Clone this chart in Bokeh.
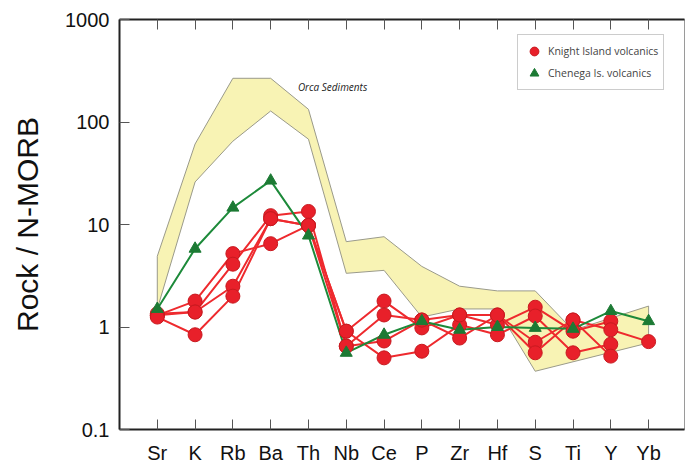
from bokeh.plotting import figure
from bokeh.models import FixedTicker, LinearAxis, Legend, LegendItem, Label, Range1d
from bokeh.embed import file_html
from bokeh.resources import INLINE

nan = float("nan")

elements = ["Sr", "K", "Rb", "Ba", "Th", "Nb", "Ce", "P", "Zr", "Hf", "S", "Ti", "Y", "Yb"]

# Knight Island volcanics (Rock / N-MORB)
knight_1 = [1.30, 1.79, 5.2, 6.5, 9.8, 0.91, 1.79, 0.98, 1.31, 1.05, 1.56, 0.91, 1.14, nan]
knight_2 = [1.35, 1.40, 4.1, 12.2, 13.4, 0.65, 1.31, 1.17, 0.78, 1.31, 0.71, 1.17, 0.94, 0.72]
knight_3 = [1.30, 1.40, 2.5, 11.4, 9.8, 0.91, 0.50, 0.58, 1.05, 0.84, 1.28, 0.56, 0.68, nan]
knight_4 = [1.25, 0.84, 2.0, 11.4, 9.8, 0.65, 0.73, 1.17, 1.31, 1.31, 0.56, 1.17, 0.52, nan]
knight_samples = [knight_1, knight_2, knight_3, knight_4]

# Chenega Is. volcanics
chenega = [1.50, 5.8, 14.6, 26.8, 7.8, 0.56, 0.84, 1.14, 0.94, 1.00, 0.98, 0.96, 1.43, 1.14]

# Orca Sediments envelope (upper / lower bounds; nan = no vertex)
orca_upper = [4.9, 61, 267, 267, 133, 6.8, 7.6, 3.9, 2.5, 2.25, 2.25, 0.93, nan, 1.6]
orca_lower = [1.5, 26, 65, 128, 68, 3.34, 3.57, 1.25, 1.5, 1.5, 0.37, nan, nan, 0.70]

y_ticks = [0.1, 1, 10, 100, 1000]
y_labels = ["0.1", "1", "10", "100", "1000"]

xs = list(range(1, len(elements) + 1))

p = figure(width=690, height=466, x_range=Range1d(0, 14.95), y_range=Range1d(0.1, 1000),
           y_axis_type="log", output_backend="svg", toolbar_location=None,
           min_border_left=119, min_border_right=6, min_border_top=19, min_border_bottom=34)
p.grid.visible = False
p.outline_line_color = "#9a9a9a"
p.outline_line_width = 1
p.background_fill_color = "white"
p.border_fill_color = "white"

# envelope polygon
up_pts = [(x, v) for x, v in zip(xs, orca_upper) if v == v]
lo_pts = [(x, v) for x, v in zip(xs, orca_lower) if v == v]
poly = up_pts + lo_pts[::-1]
p.patch([q[0] for q in poly], [q[1] for q in poly], fill_color="#f8f3b4",
        line_color="#9a9a8a", line_width=1)

red_line = "#ee2a2e"
green = "#1d8a3a"

for s in knight_samples:
    p.line(xs, s, line_color=red_line, line_width=2)
p.line(xs, chenega, line_color=green, line_width=2)

red_sc = None
for s in knight_samples:
    r = p.scatter(xs, s, marker="circle", size=14, fill_color="#e8202a",
                  line_color="#c81a20", line_width=1)
    if red_sc is None:
        red_sc = r
green_sc = p.scatter(xs, chenega, marker="triangle", size=12, fill_color="#1c7a34",
                     line_color="#1c7a34", line_width=1)

# axes
p.xaxis.ticker = FixedTicker(ticks=xs, minor_ticks=[])
p.xaxis.major_label_overrides = {x: e for x, e in zip(xs, elements)}
p.yaxis.ticker = FixedTicker(ticks=y_ticks, minor_ticks=[])
p.yaxis.major_label_overrides = {t: l for t, l in zip(y_ticks, y_labels)}

for ax in (p.xaxis[0], p.yaxis[0]):
    ax.axis_line_width = 2
    ax.axis_line_color = "#222222"
    ax.major_tick_in = 10
    ax.major_tick_out = 0
    ax.minor_tick_in = 0
    ax.minor_tick_out = 0
    ax.major_tick_line_color = "#555555"
    ax.major_tick_line_width = 1
    ax.major_label_text_font = "Liberation Sans"
    ax.major_label_text_font_size = "20px"
    ax.major_label_text_color = "#111111"

p.xaxis.major_label_standoff = 12
p.yaxis.major_label_standoff = 10
p.yaxis.axis_label = "Rock / N-MORB"
p.yaxis.axis_label_text_font = "Liberation Sans"
p.yaxis.axis_label_text_font_size = "30px"
p.yaxis.axis_label_text_font_style = "normal"
p.yaxis.axis_label_text_color = "#111111"
p.yaxis.axis_label_standoff = 18

top = LinearAxis(ticker=FixedTicker(ticks=xs, minor_ticks=[]),
                 major_label_overrides={x: "" for x in xs},
                 major_tick_in=10, major_tick_out=0, minor_tick_in=0, minor_tick_out=0,
                 axis_line_width=2, axis_line_color="#222222",
                 major_tick_line_color="#555555", major_label_standoff=0)
p.add_layout(top, "above")

p.add_layout(Label(x=4.72, y=218, text="Orca Sediments", text_font="Open Sans",
                   text_font_style="italic", text_font_size="10px", text_color="#222222",
                   text_baseline="middle"))

legend = Legend(items=[LegendItem(label="Knight Island volcanics", renderers=[red_sc]),
                       LegendItem(label="Chenega Is. volcanics", renderers=[green_sc])],
                location=(398, 339), border_line_color="#999999", border_line_width=1,
                background_fill_color="white", background_fill_alpha=1,
                label_text_font="Open Sans", label_text_font_size="10.5px",
                glyph_width=22, glyph_height=22, spacing=0, padding=5, margin=0,
                label_standoff=3)
p.add_layout(legend)

open("out.html", "w").write(file_html(p, INLINE))
